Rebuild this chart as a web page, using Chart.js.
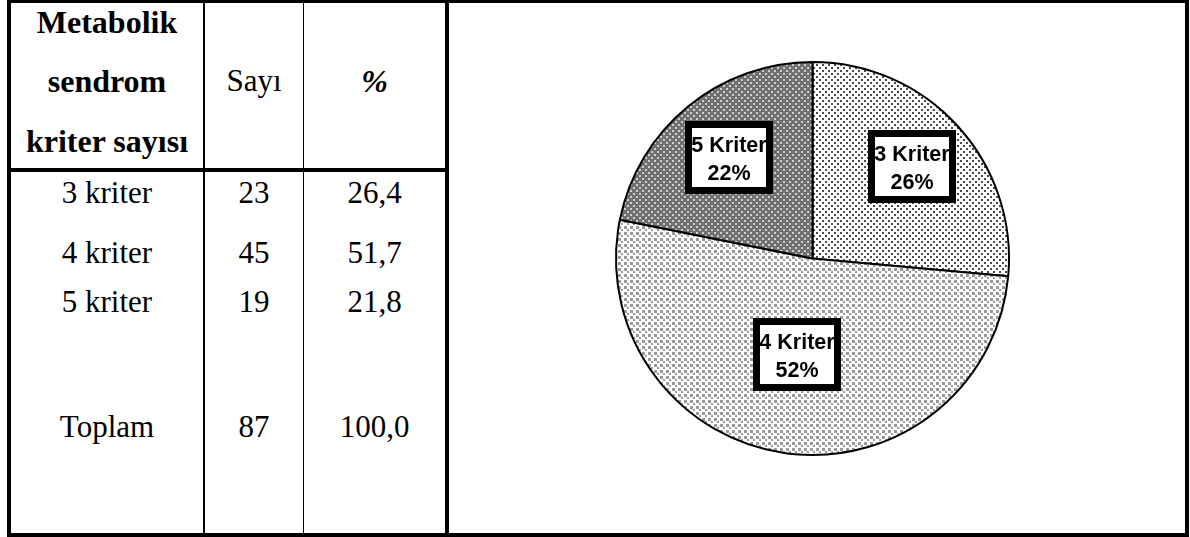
<!DOCTYPE html>
<html lang="tr">
<head>
<meta charset="utf-8">
<script src="https://cdn.jsdelivr.net/npm/chart.js@4/dist/chart.umd.min.js"></script>
<style>
  html, body { margin: 0; padding: 0; background: #fff; }
  #page { position: relative; width: 1190px; height: 537px; overflow: hidden; background: #fff; }
  .rule { position: absolute; background: #000; }
  .cell {
    position: absolute; text-align: center; white-space: nowrap; color: #000;
    font-family: "Liberation Serif", "Times New Roman", serif;
    font-size: 31px; line-height: 30px; height: 30px;
  }
  .bold { font-weight: bold; font-size: 32px; }
  .ital { font-style: italic; }
  #chartBox { position: absolute; left: 449px; top: 3px; width: 736px; height: 530px; }
</style>
</head>
<body>
<div id="page">
  <div id="chartBox"><canvas id="pie"></canvas></div>
</div>
<script>
// Metabolik sendrom kriter sayısı dağılımı
const headerLines = ['Metabolik', 'sendrom', 'kriter sayısı'];
const headerCount = 'Sayı';
const headerPercent = '%';
const rowLabels = ['3 kriter', '4 kriter', '5 kriter'];
const counts = [23, 45, 19];
const percents = ['26,4', '51,7', '21,8'];
const totalLabel = 'Toplam';
const totalCount = 87;
const totalPercent = '100,0';
const sliceLabels = ['3 Kriter', '4 Kriter', '5 Kriter'];

// ---- table layout ----
const page = document.getElementById('page');
const columns = [
  { left: 11, right: 203 },
  { left: 205, right: 303 },
  { left: 304, right: 445 }
];
const headerBaselines = [32, 91, 151];
const headerMidBaseline = 91;
const rowBaselines = [203, 263, 312];
const totalBaseline = 437;
const BASE_OFFSET = 25; // distance from div top to text baseline

function rule(x, y, w, h) {
  const d = document.createElement('div');
  d.className = 'rule';
  Object.assign(d.style, { left: x + 'px', top: y + 'px', width: w + 'px', height: h + 'px' });
  page.appendChild(d);
}
function cell(text, col, baseline, cls) {
  const d = document.createElement('div');
  d.className = 'cell' + (cls ? ' ' + cls : '');
  const c = columns[col];
  Object.assign(d.style, {
    left: c.left + 'px', width: (c.right - c.left) + 'px',
    top: (baseline - BASE_OFFSET) + 'px'
  });
  d.textContent = text;
  page.appendChild(d);
}

// frame and grid lines
rule(7, 0, 1182, 3);      // top
rule(7, 533, 1182, 4);    // bottom
rule(7, 0, 4, 537);       // left
rule(1185, 0, 4, 537);    // right
rule(445, 0, 4, 537);     // table / chart divider
rule(7, 168, 442, 4);     // header underline
rule(203, 0, 2, 537);     // column 1 | 2
rule(303, 0, 1, 537);     // column 2 | 3

// header
headerLines.forEach((t, i) => cell(t, 0, headerBaselines[i], 'bold'));
cell(headerCount, 1, headerMidBaseline);
cell(headerPercent, 2, headerMidBaseline, 'bold ital');

// body rows
rowLabels.forEach((t, i) => {
  cell(t, 0, rowBaselines[i]);
  cell(String(counts[i]), 1, rowBaselines[i]);
  cell(percents[i], 2, rowBaselines[i]);
});
cell(totalLabel, 0, totalBaseline);
cell(String(totalCount), 1, totalBaseline);
cell(totalPercent, 2, totalBaseline);

// ---- fill patterns for the slices ----
function makePattern(bg, dot, size, dotSize) {
  const c = document.createElement('canvas');
  c.width = size; c.height = size;
  const g = c.getContext('2d');
  g.fillStyle = bg; g.fillRect(0, 0, size, size);
  g.fillStyle = dot;
  const h = size / 2;
  g.fillRect(1, 1, dotSize, dotSize);
  g.fillRect(1 + h, 1 + h, dotSize, dotSize);
  return g.createPattern(c, 'repeat');
}
const sliceFills = [
  makePattern('#ffffff', '#4a4a4a', 6, 2),  // 3 Kriter: fine dark dots on white
  makePattern('#ffffff', '#9a9a9a', 6, 3),  // 4 Kriter: grey checker
  makePattern('#707070', '#cfcfcf', 6, 2)   // 5 Kriter: light dots on dark grey
];

// ---- boxed labels inside the slices ----
const labelRadius = [0.69, 0.50, 0.66];
const boxedLabels = {
  id: 'boxedLabels',
  afterDatasetsDraw(chart) {
    const ctx = chart.ctx;
    const meta = chart.getDatasetMeta(0);
    const values = chart.data.datasets[0].data;
    const total = values.reduce((a, b) => a + b, 0);
    const W = 88, H = 73, B = 7;
    ctx.save();
    meta.data.forEach((arc, i) => {
      const p = arc.getProps(['x', 'y', 'startAngle', 'endAngle', 'outerRadius'], true);
      const mid = (p.startAngle + p.endAngle) / 2;
      const r = p.outerRadius * labelRadius[i];
      const cx = p.x + Math.cos(mid) * r;
      const cy = p.y + Math.sin(mid) * r;
      const bx = Math.round(cx - W / 2) - 1, by = Math.round(cy - H / 2) - 1;
      ctx.fillStyle = '#000';
      ctx.fillRect(bx, by, W, H);
      ctx.fillStyle = '#fff';
      ctx.fillRect(bx + B, by + B, W - 2 * B, H - 2 * B);
      ctx.fillStyle = '#000';
      ctx.font = 'bold 21.5px "Liberation Sans", Arial, sans-serif';
      ctx.textAlign = 'center';
      ctx.textBaseline = 'alphabetic';
      const pct = Math.round(values[i] / total * 100) + '%';
      ctx.fillText(chart.data.labels[i], bx + W / 2, by + H / 2 - 6);
      ctx.fillText(pct, bx + W / 2, by + H / 2 + 22);
    });
    ctx.restore();
  }
};

new Chart(document.getElementById('pie'), {
  type: 'pie',
  data: {
    labels: sliceLabels,
    datasets: [{
      data: counts,
      backgroundColor: sliceFills,
      borderColor: '#000',
      borderWidth: 2,
      borderAlign: 'center'
    }]
  },
  options: {
    responsive: true,
    maintainAspectRatio: false,
    animation: false,
    layout: { padding: { left: 166, right: 175, top: 58, bottom: 77 } },
    plugins: {
      legend: { display: false },
      tooltip: { enabled: false }
    }
  },
  plugins: [boxedLabels]
});
</script>
</body>
</html>
